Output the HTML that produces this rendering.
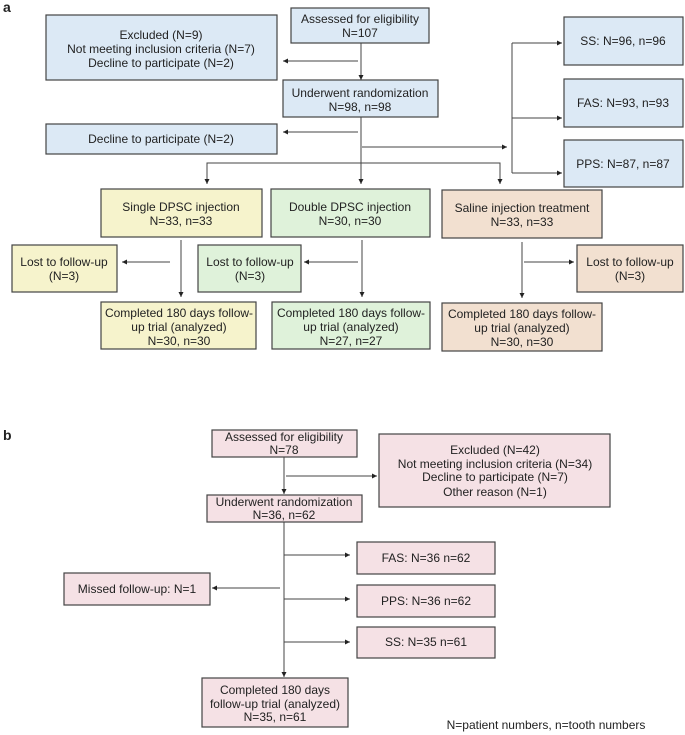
<!DOCTYPE html>
<html><head><meta charset="utf-8"><style>
html,body{margin:0;padding:0;background:#fff;}
svg{display:block;}
text{font-family:"Liberation Sans",Arial,sans-serif;font-size:12px;fill:#222;text-anchor:middle;}
.bx{stroke:#444;stroke-width:1.2;}
.l{stroke:#444;stroke-width:1;fill:none;}
</style></head><body>
<svg width="685" height="735" viewBox="0 0 685 735" xmlns="http://www.w3.org/2000/svg">
<defs><marker id="a" markerWidth="6" markerHeight="6" refX="5" refY="3" orient="auto" markerUnits="userSpaceOnUse"><path d="M0,0.5 L5,3 L0,5.5z" fill="#222"/></marker></defs>
<text x="3" y="12" style="font-weight:bold;font-size:14px;text-anchor:start">a</text>
<g fill="#dce9f5">
<rect class="bx" x="291" y="8" width="138" height="35"/>
<rect class="bx" x="46" y="15" width="231" height="65"/>
<rect class="bx" x="283" y="80" width="155" height="37"/>
<rect class="bx" x="46" y="124" width="231" height="30"/>
<rect class="bx" x="564" y="17" width="119" height="48"/>
<rect class="bx" x="564" y="79" width="119" height="48"/>
<rect class="bx" x="564" y="140" width="119" height="47"/>
</g>
<g fill="#f6f3cc">
<rect class="bx" x="101" y="189" width="161" height="48"/>
<rect class="bx" x="12" y="245" width="105" height="47"/>
<rect class="bx" x="101" y="302" width="155" height="47"/>
</g>
<g fill="#dff2da">
<rect class="bx" x="271" y="189" width="159" height="48"/>
<rect class="bx" x="198" y="245" width="103" height="47"/>
<rect class="bx" x="272" y="302" width="158" height="47"/>
</g>
<g fill="#f2e0d0">
<rect class="bx" x="442" y="190" width="160" height="48"/>
<rect class="bx" x="577" y="245" width="106" height="47"/>
<rect class="bx" x="442" y="303" width="160" height="48"/>
</g>
<text x="360" y="23">Assessed for eligibility</text><text x="360" y="37">N=107</text>
<text x="161" y="39">Excluded (N=9)</text><text x="161" y="53">Not meeting inclusion criteria (N=7)</text><text x="161" y="67">Decline to participate (N=2)</text>
<text x="360" y="97">Underwent randomization</text><text x="360" y="111">N=98,  n=98</text>
<text x="161" y="143">Decline to participate (N=2)</text>
<text x="623" y="45">SS: N=96, n=96</text>
<text x="623" y="107">FAS: N=93, n=93</text>
<text x="623" y="168">PPS: N=87, n=87</text>
<text x="181" y="211">Single DPSC injection</text><text x="181" y="225">N=33, n=33</text>
<text x="350" y="211">Double DPSC injection</text><text x="350" y="225">N=30, n=30</text>
<text x="522" y="212">Saline injection treatment</text><text x="522" y="226">N=33, n=33</text>
<text x="64" y="266">Lost to follow-up</text><text x="64" y="280">(N=3)</text>
<text x="250" y="266">Lost to follow-up</text><text x="250" y="280">(N=3)</text>
<text x="630" y="266">Lost to follow-up</text><text x="630" y="280">(N=3)</text>
<text x="179" y="317">Completed 180 days follow-</text><text x="179" y="331">up trial (analyzed)</text><text x="179" y="345">N=30, n=30</text>
<text x="351" y="317">Completed 180 days follow-</text><text x="351" y="331">up trial (analyzed)</text><text x="351" y="345">N=27, n=27</text>
<text x="522" y="318">Completed 180 days follow-</text><text x="522" y="332">up trial (analyzed)</text><text x="522" y="346">N=30, n=30</text>
<line class="l" x1="361" y1="43" x2="361" y2="80" marker-end="url(#a)"/>
<line class="l" x1="358" y1="61" x2="283" y2="61" marker-end="url(#a)"/>
<line class="l" x1="361" y1="117" x2="361" y2="163"/>
<line class="l" x1="358" y1="132" x2="283" y2="132" marker-end="url(#a)"/>
<line class="l" x1="362" y1="147" x2="507" y2="147" marker-end="url(#a)"/>
<polyline class="l" points="207,183 207,163 500,163 500,183"/>
<line class="l" x1="207" y1="163" x2="207" y2="184" marker-end="url(#a)"/>
<line class="l" x1="361" y1="163" x2="361" y2="184" marker-end="url(#a)"/>
<line class="l" x1="500" y1="163" x2="500" y2="184" marker-end="url(#a)"/>
<line class="l" x1="512" y1="43" x2="512" y2="173"/>
<line class="l" x1="512" y1="43" x2="562" y2="43" marker-end="url(#a)"/>
<line class="l" x1="512" y1="118" x2="562" y2="118" marker-end="url(#a)"/>
<line class="l" x1="512" y1="173" x2="562" y2="173" marker-end="url(#a)"/>
<line class="l" x1="181" y1="240" x2="181" y2="297" marker-end="url(#a)"/>
<line class="l" x1="170" y1="262" x2="122" y2="262" marker-end="url(#a)"/>
<line class="l" x1="362" y1="240" x2="362" y2="297" marker-end="url(#a)"/>
<line class="l" x1="358" y1="262" x2="304" y2="262" marker-end="url(#a)"/>
<line class="l" x1="522" y1="242" x2="522" y2="298" marker-end="url(#a)"/>
<line class="l" x1="524" y1="262" x2="574" y2="262" marker-end="url(#a)"/>
<text x="3" y="440" style="font-weight:bold;font-size:14px;text-anchor:start">b</text>
<g fill="#f5e1e5">
<rect class="bx" x="212" y="430" width="145" height="27"/>
<rect class="bx" x="379" y="434" width="231" height="73"/>
<rect class="bx" x="207" y="495" width="155" height="27"/>
<rect class="bx" x="357" y="542" width="138" height="32"/>
<rect class="bx" x="357" y="585" width="138" height="32"/>
<rect class="bx" x="357" y="627" width="138" height="31"/>
<rect class="bx" x="64" y="573" width="146" height="32"/>
<rect class="bx" x="202" y="678" width="146" height="49"/>
</g>
<text x="284" y="441">Assessed for eligibility</text><text x="284" y="454">N=78</text>
<text x="495" y="454">Excluded (N=42)</text><text x="495" y="468">Not meeting inclusion criteria (N=34)</text><text x="495" y="481">Decline to participate (N=7)</text><text x="495" y="496">Other reason (N=1)</text>
<text x="284" y="506">Underwent randomization</text><text x="284" y="519">N=36,  n=62</text>
<text x="426" y="562">FAS:  N=36 n=62</text>
<text x="426" y="605">PPS:  N=36 n=62</text>
<text x="426" y="646">SS:  N=35 n=61</text>
<text x="137" y="593">Missed follow-up: N=1</text>
<text x="275" y="694">Completed 180 days</text><text x="275" y="708">follow-up trial (analyzed)</text><text x="275" y="721">N=35,  n=61</text>
<text x="546" y="729">N=patient numbers, n=tooth numbers</text>
<line class="l" x1="284" y1="457" x2="284" y2="494" marker-end="url(#a)"/>
<line class="l" x1="286" y1="476" x2="377" y2="476" marker-end="url(#a)"/>
<line class="l" x1="284" y1="522" x2="284" y2="677" marker-end="url(#a)"/>
<line class="l" x1="284" y1="555" x2="350" y2="555" marker-end="url(#a)"/>
<line class="l" x1="284" y1="599" x2="350" y2="599" marker-end="url(#a)"/>
<line class="l" x1="284" y1="642" x2="350" y2="642" marker-end="url(#a)"/>
<line class="l" x1="280" y1="588" x2="212" y2="588" marker-end="url(#a)"/>
</svg>
</body></html>
